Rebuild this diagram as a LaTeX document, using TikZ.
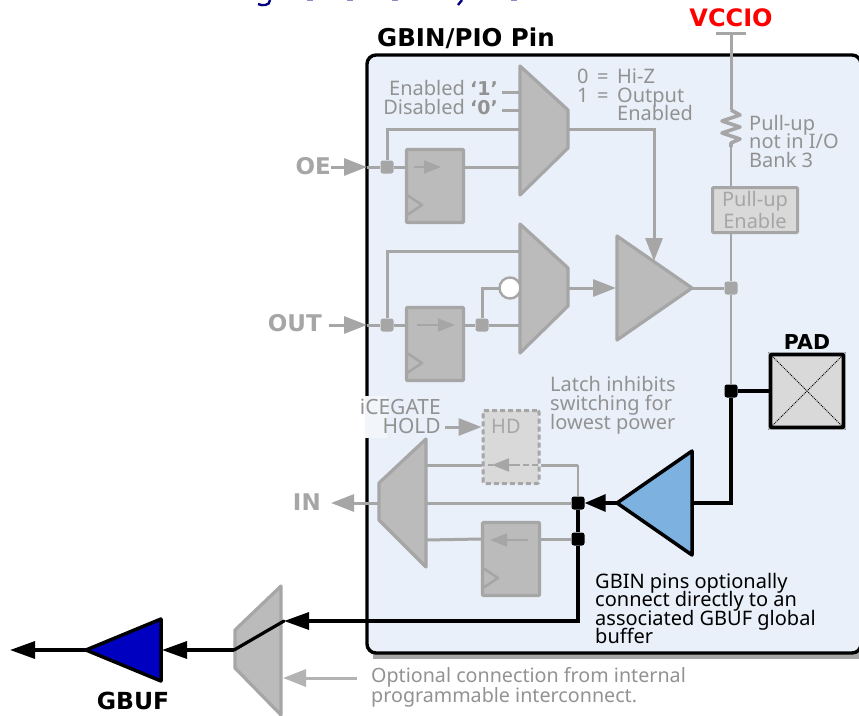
\documentclass[tikz,border=0pt]{standalone}
\usepackage{fontspec}
\setmainfont{Noto Sans}
\newfontfamily\labelfont{DejaVu Sans}
\usetikzlibrary{arrows.meta,calc}
\lineskiplimit=-20pt
\definecolor{wireGray}{HTML}{A6A6A6}
\definecolor{fillGray}{HTML}{BBBBBB}
\definecolor{lightGray}{HTML}{D9D9D9}
\definecolor{panelBlue}{HTML}{E9F0F9}
\definecolor{patchBlue}{HTML}{F2F5F9}
\definecolor{textGray}{HTML}{929292}
\definecolor{titleBlue}{HTML}{000080}
\definecolor{bufBlue}{HTML}{7DB1E0}
\definecolor{gbufBlue}{HTML}{0000C0}
\tikzset{
  wire/.style={draw=wireGray,line width=3pt},
  blackwire/.style={draw=black,line width=3.2pt},
  garrow/.style={wire,-{Triangle[length=23pt,width=17pt]}},
  sarrow/.style={draw=wireGray,line width=2pt,-{Triangle[length=17pt,width=13pt]}},
  barrow/.style={blackwire,-{Triangle[length=21pt,width=17pt]}},
  muxshape/.style={draw=wireGray,fill=fillGray,line width=3.2pt,line join=round},
  ffbox/.style={draw=wireGray,fill=fillGray,line width=3.2pt,rounded corners=1pt,minimum width=57pt,minimum height=73pt,inner sep=0pt},
  junction/.style={fill=wireGray,rounded corners=2.5pt,minimum size=13pt,inner sep=0pt},
  blackjunction/.style={fill=black,rounded corners=2.5pt,minimum size=13pt,inner sep=0pt},
  clockmark/.style={wire,line width=2.6pt,line join=round},
  graytext/.style={text=textGray,font=\fontsize{20}{18.4}\selectfont,inner sep=0pt,align=left},
  signal/.style={text=wireGray,font=\labelfont\bfseries\fontsize{23}{23}\selectfont,inner sep=0pt},
  blacklabel/.style={text=black,font=\labelfont\bfseries\fontsize{23}{23}\selectfont,inner sep=0pt},
}
\newcommand{\boldbit}[1]{{\labelfont\bfseries\fontsize{19}{18}\selectfont #1}}
\begin{document}
\begin{tikzpicture}[x=1pt,y=-1pt]
  \useasboundingbox (0,0) rectangle (859,715);

  % what is left of the clipped heading
  \draw[titleBlue,line width=2.4pt] (270,0) .. controls (270,6) and (262,6) .. (258,4);
  \draw[titleBlue,line width=2.4pt] (462,0) -- (458,5);
  \foreach \xpos in {307,347,392,511} {
    \fill[titleBlue!45] (\xpos,0) rectangle (\xpos+6,1);
  }

  % panel with its shadow
  \fill[wireGray] (373,60) rectangle (870,659);
  \draw[black,line width=3.4pt,fill=panelBlue,rounded corners=9pt] (367,55) rectangle (861,653);
  \fill[patchBlue] (365,396) rectangle (387,438);
  \node[blacklabel,anchor=west,font=\labelfont\bfseries\fontsize{24.5}{24}\selectfont] (pinlabel) at (377,38) {GBIN/PIO Pin};

  % named points
  \coordinate (vcctop) at (731,33);
  \coordinate (tickl) at (716,33);
  \coordinate (tickr) at (746,33);
  \coordinate (respos) at (731,110);
  \coordinate (resneg) at (731,147);
  \coordinate (oein) at (331,167);
  \coordinate (oetip) at (367,167);
  \coordinate (outin) at (329,325);
  \coordinate (outtip) at (367,325);
  \coordinate (hdin) at (445,427);
  \coordinate (inout) at (331,503);
  \coordinate (muxa) at (520,129);
  \coordinate (muxb) at (520,167);
  \coordinate (muxc) at (520,251);
  \coordinate (muxd) at (520,325);
  \coordinate (muxq) at (568,129);
  \coordinate (muxr) at (568,288);
  \coordinate (trib) at (616,288);
  \coordinate (tric) at (692,288);
  \coordinate (trien) at (654,261);
  \coordinate (notin) at (499,288);
  \coordinate (ena) at (502,92);
  \coordinate (enb) at (502,110);
  \coordinate (enc) at (520,92);
  \coordinate (end) at (520,110);
  \coordinate (inmuxa) at (426,465);
  \coordinate (inmuxb) at (426,503);
  \coordinate (inmuxc) at (426,540);
  \coordinate (inmuxl) at (379,503);
  \coordinate (hdturn) at (578,465);
  \coordinate (bufl) at (617,503);
  \coordinate (bufr) at (692,503);
  \coordinate (gmuxin) at (284,621);
  \coordinate (gmuxout) at (234,650);
  \coordinate (gmuxsel) at (283,678);
  \coordinate (gselfree) at (357,678);
  \coordinate (gbufr) at (162,650);
  \coordinate (gbufl) at (86,650);
  \coordinate (gout) at (10,650);

  % flip-flops and gated boxes
  \node[ffbox] (oeff) at (435,186) {};
  \node[ffbox] (outff) at (435,344) {};
  \node[ffbox] (inff) at (511,559) {};
  \node[draw=wireGray,fill=lightGray,line width=3pt,dash pattern=on 5pt off 3pt,minimum width=56pt,minimum height=73pt,rounded corners=2pt] (hdbox) at (511,447) {};
  \node[draw=wireGray,fill=lightGray,line width=3pt,rounded corners=1pt,minimum width=85pt,minimum height=45pt,inner sep=0pt,text=wireGray,font=\fontsize{20}{22}\selectfont,align=center] (pullbox) at (755,210) {Pull-up\\Enable};
  \node[draw=black,fill=lightGray,line width=3.8pt,rounded corners=1pt,minimum width=73pt,minimum height=73pt] (pad) at (807,391) {};

  % junctions
  \node[junction] (oej) at (387,167) {};
  \node[junction] (outj) at (387,325) {};
  \node[junction] (ffj) at (482,325) {};
  \node[junction] (padgray) at (731,288) {};
  \node[blackjunction] (padj) at (731,391) {};
  \node[blackjunction] (bufj) at (578,503) {};
  \node[blackjunction] (ffinj) at (578,539) {};

  % connectors: output side
  \draw[wire] (vcctop) -- (respos);
  \draw[wire] (tickl) -- (tickr);
  \draw[wire,line width=3.6pt,line join=round] (respos) -- ++(9,5) -- ++(-18,6) -- ++(18,6) -- ++(-18,6) -- ++(18,6) -- ++(-9,4) -- (resneg);
  \draw[wire,line width=2.6pt] (resneg) -- (pullbox.north -| resneg);
  \draw[wire,line width=2.6pt] (pullbox.south -| padj) -- (padgray);
  \draw[wire,line width=2.6pt] (padgray) -- (padj);
  \draw[wire] (ena) -- (enc);
  \draw[wire] (enb) -- (end);
  \draw[garrow] (oein) -- (oetip);
  \draw[wire] (oetip) -- (oej);
  \draw[wire] (oej) -- (oej -| oeff.west);
  \draw[wire] (oeff.east |- muxb) -- (muxb);
  \draw[wire] (oej) |- (muxa);
  \draw[wire] (outj) |- (muxc);
  \draw[garrow] (outin) -- (outtip);
  \draw[wire] (outtip) -- (outj);
  \draw[wire] (outj) -- (outj -| outff.west);
  \draw[wire] (outff.east |- ffj) -- (ffj);
  \draw[wire] (ffj) -- (muxd);
  \draw[wire] (ffj) |- (notin);
  \draw[garrow] (muxq) -| (trien);
  \draw[garrow] (muxr) -- (trib);
  \draw[wire] (tric) -- (padgray);
  \draw[blackwire] (padj) -- (pad);
  \draw[blackwire] (padj) |- (bufr);

  % connectors: input side
  \draw[wire,line width=2.6pt] (bufj) -- (hdturn);
  \draw[wire] (hdturn) -- (hdturn -| hdbox.east);
  \draw[wire] (hdturn -| hdbox.west) -- (inmuxa);
  \draw[wire] (bufj) -- (inmuxb);
  \draw[wire] (ffinj) -- (ffinj -| inff.east);
  \draw[wire] (ffinj -| inff.west) -- (inmuxc);
  \draw[blackwire] (bufj) -- (ffinj);
  \draw[blackwire,-{Triangle[length=25pt,width=17pt]}] (ffinj) |- (gmuxin);
  \draw[garrow] (inmuxl) -- (inout);
  \draw[garrow] (hdin) -- (hdin -| hdbox.west);
  \draw[barrow] (bufl) -- (bufj);
  \draw[garrow,draw=wireGray!85] (gselfree) -- (gmuxsel);

  % muxes and buffers on top
  \draw[muxshape] (520,66) -- (568,110) -- (568,148) -- (520,195) -- cycle;
  \draw[muxshape] (520,224) -- (568,268) -- (568,306) -- (520,353) -- cycle;
  \draw[muxshape] (617,236) -- (692,288) -- (617,340) -- cycle;
  \draw[muxshape] (426,439) -- (379,483) -- (379,520) -- (426,567) -- cycle;
  \draw[muxshape] (281,586) -- (235,630) -- (235,668) -- (281,715) -- cycle;
  \draw[fill=bufBlue,draw=black,line width=3.5pt,line join=round] (692,451) -- (617,503) -- (692,555) -- cycle;
  \draw[fill=gbufBlue,draw=black,line width=3.5pt,line join=round] (161,619) -- (86,650) -- (161,681) -- cycle;
  \node[draw=wireGray,fill=white,circle,line width=2.4pt,minimum size=21pt,inner sep=0pt] (notc) at (510,288) {};

  % details in the boxes
  \draw[sarrow] (414,167) -- (441,167);
  \draw[sarrow] (417,325) -- (455,325);
  \draw[sarrow] (528,540) -- (490,540);
  \foreach \xbase/\ybase in {407/205,407/363,483/578} {
    \draw[clockmark] (\xbase,\ybase-10) -- (\xbase+15,\ybase) -- (\xbase,\ybase+10);
  }
  \draw[line width=2.6pt,wireGray,dash pattern=on 6pt off 3pt] (538,465) -- (488,465);
  \draw[sarrow] (520,465) -- (492,465);
  \draw[densely dotted,line width=1pt] (pad.north west) -- (pad.south east);
  \draw[densely dotted,line width=1pt] (pad.north east) -- (pad.south west);

  % black path through the global mux
  \draw[blackwire,line cap=round,line join=round] (gmuxin) -- (gmuxout);
  \draw[blackwire,-{Triangle[length=25pt,width=17pt]}] (gmuxout) -- (gbufr);
  \draw[blackwire,-{Triangle[length=25pt,width=17pt]}] (gbufl) -- (gout);

  % texts
  \node[text=red,font=\labelfont\bfseries\fontsize{24}{24}\selectfont,inner sep=0pt] (vcclabel) at (731,18) {VCCIO};
  \node[signal,anchor=east] (oelabel) at (331,166) {OE};
  \node[signal,anchor=east] (outlabel) at (322,323) {OUT};
  \node[signal,anchor=east] (inlabel) at (321,502) {IN};
  \node[blacklabel,font=\labelfont\bfseries\fontsize{20.5}{20}\selectfont] (padlabel) at (807,342) {PAD};
  \node[blacklabel,font=\labelfont\bfseries\fontsize{23.5}{24}\selectfont] (gbuflabel) at (133,701) {GBUF};
  \node[graytext,anchor=east] (enlabel) at (498,88) {Enabled \boldbit{‘1’}};
  \node[graytext,anchor=east] (dislabel) at (498,107) {Disabled \boldbit{‘0’}};
  \node[graytext,anchor=north west] (hiz) at (577,69) {0\ \,=\ \,Hi-Z\\1\ \,=\ \,Output\\\hspace*{40pt}Enabled};
  \node[graytext,anchor=north west] (pulltext) at (749,115) {Pull-up\\not in I/O\\Bank 3};
  \node[graytext,anchor=north west,font=\fontsize{20}{19}\selectfont] (latchtext) at (550,376) {Latch inhibits\\switching for\\lowest power};
  \node[graytext,anchor=east,align=right,font=\fontsize{21}{19}\selectfont] (hold) at (441,416) {iCEGATE\\HOLD};
  \node[text=wireGray,font=\fontsize{20}{20}\selectfont,inner sep=0pt,anchor=west] (hdlabel) at (491,426) {HD};
  \node[inner sep=0pt,anchor=north west,align=left,font=\fontsize{20}{18.4}\selectfont] (gbintext) at (595,573) {GBIN pins optionally\\connect directly to an\\associated GBUF global\\buffer};
  \node[graytext,anchor=north west,font=\fontsize{19.7}{20}\selectfont] (opttext) at (371,667) {Optional connection from internal\\programmable interconnect.};
\end{tikzpicture}
\end{document}
